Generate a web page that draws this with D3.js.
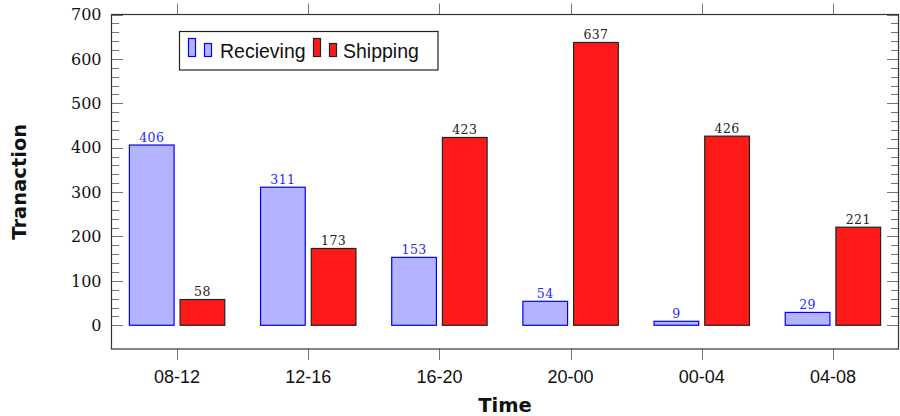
<!DOCTYPE html>
<html>
<head>
<meta charset="utf-8">
<script src="https://cdn.jsdelivr.net/npm/d3@7"></script>
<style>
  html, body { margin: 0; padding: 0; background: #fff; }
  svg { display: block; }
</style>
</head>
<body>
<svg id="chart" width="900" height="416"></svg>
<script>
const categories = ["08-12", "12-16", "16-20", "20-00", "00-04", "04-08"];
const receiving = [406, 311, 153, 54, 9, 29];
const shipping = [58, 173, 423, 637, 426, 221];
const seriesNames = ["Recieving", "Shipping"];
const yTicks = [0, 100, 200, 300, 400, 500, 600, 700];

const svg = d3.select("#chart");
const L = 111.5, R = 898.5, T = 14.5, B = 349;

const x = d3.scaleBand().domain(categories).range([L, R]).paddingInner(0).paddingOuter(0);
const y = d3.scaleLinear().domain([-53.4, 700]).range([B, T]);

const serif = "'DejaVu Serif', serif";
const sans = "'Liberation Sans', Arial, sans-serif";
const boldSans = "'DejaVu Sans', sans-serif";

const step = 50.7, bw = 45.7;
const series = [
  { name: seriesNames[0], values: receiving, fill: "#b3b3ff", stroke: "#0000ff", label: "#2828ff", off: -0.5 },
  { name: seriesNames[1], values: shipping, fill: "#ff1a1a", stroke: "#222", label: "#222", off: 0.5 }
];

// bars
series.forEach(s => {
  const g = svg.append("g");
  g.selectAll("rect").data(categories).join("rect")
    .attr("x", (c) => x(c) + x.bandwidth() / 2 + s.off * step - bw / 2 + 0.5)
    .attr("y", (c, i) => y(s.values[i]))
    .attr("width", bw - 1)
    .attr("height", (c, i) => y(0) - y(s.values[i]))
    .attr("fill", s.fill)
    .attr("stroke", s.stroke)
    .attr("stroke-width", 1.2);
  g.selectAll("text").data(categories).join("text")
    .attr("x", (c) => x(c) + x.bandwidth() / 2 + s.off * step)
    .attr("y", (c, i) => y(s.values[i]) - 3.5)
    .attr("text-anchor", "middle")
    .attr("font-family", serif)
    .attr("font-size", 12.5)
    .attr("letter-spacing", 0.4)
    .attr("fill", s.label)
    .text((c, i) => s.values[i]);
});

// y ticks (inside, both sides)
const minor = d3.range(0, 701, 20).filter(v => v % 100 !== 0);
const tickG = svg.append("g").attr("stroke", "#777").attr("stroke-width", 1);
yTicks.forEach(v => {
  const yy = Math.round(y(v)) + 0.5;
  tickG.append("line").attr("x1", L).attr("x2", L + 11.5).attr("y1", yy).attr("y2", yy);
  tickG.append("line").attr("x1", R).attr("x2", R - 11.5).attr("y1", yy).attr("y2", yy);
});
minor.forEach(v => {
  const yy = Math.round(y(v)) + 0.5;
  tickG.append("line").attr("x1", L).attr("x2", L + 7.5).attr("y1", yy).attr("y2", yy);
  tickG.append("line").attr("x1", R).attr("x2", R - 7.5).attr("y1", yy).attr("y2", yy);
});
// x ticks (outside, top & bottom)
categories.forEach(c => {
  const xx = Math.round(x(c) + x.bandwidth() / 2) + 0.5;
  tickG.append("line").attr("x1", xx).attr("x2", xx).attr("y1", T).attr("y2", T - 11);
  tickG.append("line").attr("x1", xx).attr("x2", xx).attr("y1", B).attr("y2", B + 11);
});

// frame
svg.append("rect").attr("x", L).attr("y", T).attr("width", R - L).attr("height", B - T)
  .attr("fill", "none").attr("stroke", "#333").attr("stroke-width", 1.2);

// y tick labels
svg.append("g").selectAll("text").data(yTicks).join("text")
  .attr("x", L - 10).attr("y", d => y(d)).attr("dy", "0.36em")
  .attr("text-anchor", "end").attr("font-family", serif).attr("font-size", 16)
  .attr("fill", "#111").text(d => d);

// x tick labels
svg.append("g").selectAll("text").data(categories).join("text")
  .attr("x", c => x(c) + x.bandwidth() / 2).attr("y", 383)
  .attr("text-anchor", "middle").attr("font-family", sans).attr("font-size", 18)
  .attr("fill", "#111").text(c => c);

// axis labels
svg.append("text").attr("x", (L + R) / 2).attr("y", 412)
  .attr("text-anchor", "middle").attr("font-family", boldSans).attr("font-weight", "bold")
  .attr("font-size", 19.5).attr("fill", "#111").text("Time");
svg.append("text").attr("transform", `translate(26,${(T + B) / 2}) rotate(-90)`)
  .attr("text-anchor", "middle").attr("font-family", boldSans).attr("font-weight", "bold")
  .attr("font-size", 19.5).attr("fill", "#111").text("Tranaction");

// legend
const lg = svg.append("g");
lg.append("rect").attr("x", 179.5).attr("y", 31.5).attr("width", 258.5).attr("height", 38.5)
  .attr("fill", "#fff").attr("stroke", "#222").attr("stroke-width", 1.2);
const legendItems = [
  { s: series[0], x0: 188.5, tx: 220 },
  { s: series[1], x0: 313.5, tx: 343 }
];
legendItems.forEach(it => {
  lg.append("rect").attr("x", it.x0).attr("y", 38.5).attr("width", 7).attr("height", 18)
    .attr("fill", it.s.fill).attr("stroke", it.s.stroke).attr("stroke-width", 1.2);
  lg.append("rect").attr("x", it.x0 + 16).attr("y", 43.5).attr("width", 7).attr("height", 13)
    .attr("fill", it.s.fill).attr("stroke", it.s.stroke).attr("stroke-width", 1.2);
  lg.append("text").attr("x", it.tx).attr("y", 58).attr("font-family", sans).attr("font-size", 19.5)
    .attr("fill", "#111").text(it.s.name);
});
</script>
</body>
</html>
